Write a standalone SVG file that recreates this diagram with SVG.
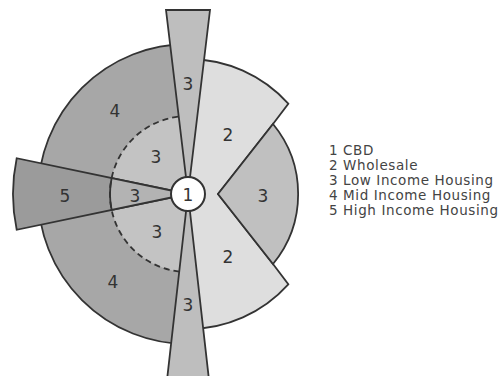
<svg xmlns="http://www.w3.org/2000/svg" width="504" height="376" viewBox="0 0 504 376">
<style>
.s{stroke:#333;stroke-width:1.8;stroke-linejoin:miter}
.lbl{font-family:"DejaVu Sans",Verdana,sans-serif;font-size:17px;fill:#333;text-anchor:middle}
.leg{font-family:"DejaVu Sans",Verdana,sans-serif;font-size:13.5px;letter-spacing:0.6px;fill:#444}
</style>
<rect width="504" height="376" fill="#fff"/>
<g id="zone4">
<path class="s" d="M188,194 L188,44 A150,150 0 0 0 188,344 Z" fill="#a7a7a7"/>
</g>
<g id="zone3-inner">
<path d="M188,194 L188,116 A78,78 0 0 0 188,272 Z" fill="#c3c3c3"/>
</g>
<g id="zone5">
<path class="s" d="M188,194 L16.7,158.2 A175,175 0 0 0 16.7,229.8 Z" fill="#9b9b9b"/>
<path class="s" d="M188,194 L111.65,178.05 A78,78 0 0 0 111.65,209.95 Z" fill="#b3b3b3"/>
</g>
<g id="dashed">
<path d="M188,116 A78,78 0 0 0 188,272" fill="none" stroke="#333" stroke-width="1.8" stroke-dasharray="6,4"/>
</g>
<g id="zone2">
<path class="s" d="M188,194 L188,59 A135,135 0 0 1 288.3,103.7 L273,124 L218,194 L273,264 L288.3,284.3 A135,135 0 0 1 188,329 Z" fill="#dedede"/>
</g>
<g id="zone3-right">
<path class="s" d="M218,194 L273,124 A110,110 0 0 1 273,264 Z" fill="#c0c0c0"/>
</g>
<g id="wedge-top">
<path class="s" d="M188,194 L166,10 L210,10 Z" fill="#bebebe"/>
</g>
<g id="wedge-bottom">
<path class="s" d="M188,194 L167,380 L209,380 Z" fill="#bebebe"/>
</g>
<g id="cbd">
<circle cx="188" cy="194" r="17" fill="#fff" stroke="#333" stroke-width="2"/>
<text class="lbl" x="188" y="201">1</text>
</g>
<g id="labels">
<text class="lbl" x="188" y="90">3</text>
<text class="lbl" x="115" y="117">4</text>
<text class="lbl" x="156" y="163">3</text>
<text class="lbl" x="228" y="141">2</text>
<text class="lbl" x="65" y="202">5</text>
<text class="lbl" x="135" y="202">3</text>
<text class="lbl" x="263" y="202">3</text>
<text class="lbl" x="157" y="238">3</text>
<text class="lbl" x="228" y="263">2</text>
<text class="lbl" x="113" y="288">4</text>
<text class="lbl" x="188" y="311">3</text>
</g>
<g id="legend">
<text class="leg" x="329" y="155">1 CBD</text>
<text class="leg" x="329" y="170">2 Wholesale</text>
<text class="leg" x="329" y="185">3 Low Income Housing</text>
<text class="leg" x="329" y="200">4 Mid Income Housing</text>
<text class="leg" x="329" y="215">5 High Income Housing</text>
</g>
</svg>
